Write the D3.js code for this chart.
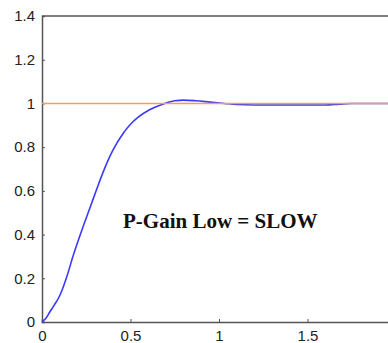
<!DOCTYPE html>
<html lang="en">
<head>
<meta charset="UTF-8">
<title>P-Gain Low</title>
<script src="https://cdn.jsdelivr.net/npm/d3@7"></script>
<style>
  body { margin: 0; background: #fff; }
  svg { display: block; }
</style>
</head>
<body>
<svg id="svg"></svg>
<script>
// step response
const time = [0, 0.02, 0.045, 0.07, 0.1, 0.12, 0.14, 0.18, 0.225, 0.27, 0.31, 0.35, 0.4, 0.46, 0.5, 0.54, 0.61, 0.69, 0.75, 0.8, 0.87, 0.95, 1.03, 1.1, 1.2, 1.4, 1.6, 1.68, 1.75, 2.0];
const response = [0, 0.015, 0.047, 0.078, 0.12, 0.16, 0.207, 0.313, 0.42, 0.52, 0.61, 0.695, 0.785, 0.865, 0.905, 0.935, 0.972, 0.999, 1.012, 1.015, 1.012, 1.006, 1.0, 0.995, 0.993, 0.993, 0.993, 0.997, 1.0, 1.0];
const setpoint = [1, 1];
const setpointTime = [0, 2];
const xTicks = [0, 0.5, 1, 1.5];
const yTicks = [0, 0.2, 0.4, 0.6, 0.8, 1, 1.2, 1.4];
const label = "P-Gain Low = SLOW";

const width = 388, height = 343;
const plotLeft = 42, plotTop = 16, plotBottom = 322, plotRight = 396;

const svg = d3.select("#svg").attr("width", width).attr("height", height);

const x = d3.scaleLinear().domain([0, 2]).range([plotLeft, plotRight]);
const y = d3.scaleLinear().domain([0, 1.4]).range([plotBottom, plotTop]);

const xAxis = svg.append("g")
    .attr("transform", `translate(0,${plotBottom})`)
    .call(d3.axisBottom(x).tickValues(xTicks).tickSize(-3).tickPadding(8)
        .tickFormat(d3.format("~g")));
const yAxis = svg.append("g")
    .attr("transform", `translate(${plotLeft},0)`)
    .call(d3.axisLeft(y).tickValues(yTicks).tickSize(-3).tickPadding(7)
        .tickFormat(d3.format("~g")));

[xAxis, yAxis].forEach(function(g) {
    g.select(".domain").attr("stroke", "#555").attr("stroke-width", 1.5);
    g.selectAll(".tick line").attr("stroke", "#555");
    g.selectAll("text")
        .attr("fill", "#222")
        .style("font-family", "'Liberation Sans', Arial, sans-serif")
        .style("font-size", "15px");
});

// top border
svg.append("line")
    .attr("x1", x(0)).attr("x2", x(2))
    .attr("y1", y(1.4)).attr("y2", y(1.4))
    .attr("stroke", "#555").attr("stroke-width", 1.5);

const line = d3.line()
    .curve(d3.curveMonotoneX)
    .x(function(d) { return x(d[0]); })
    .y(function(d) { return y(d[1]); });

svg.append("path")
    .attr("d", line(d3.zip(time, response)))
    .attr("fill", "none")
    .attr("stroke", "#3a3aff")
    .attr("stroke-width", 1.6);

svg.append("path")
    .attr("d", line(d3.zip(setpointTime, setpoint)))
    .attr("fill", "none")
    .attr("stroke", "#ff9a50")
    .attr("stroke-width", 1.6);

svg.append("text")
    .attr("x", 123).attr("y", 228)
    .attr("fill", "#111")
    .style("font-family", "'Liberation Serif', 'Times New Roman', serif")
    .style("font-weight", "bold")
    .style("font-size", "21px")
    .text(label);
</script>
</body>
</html>
